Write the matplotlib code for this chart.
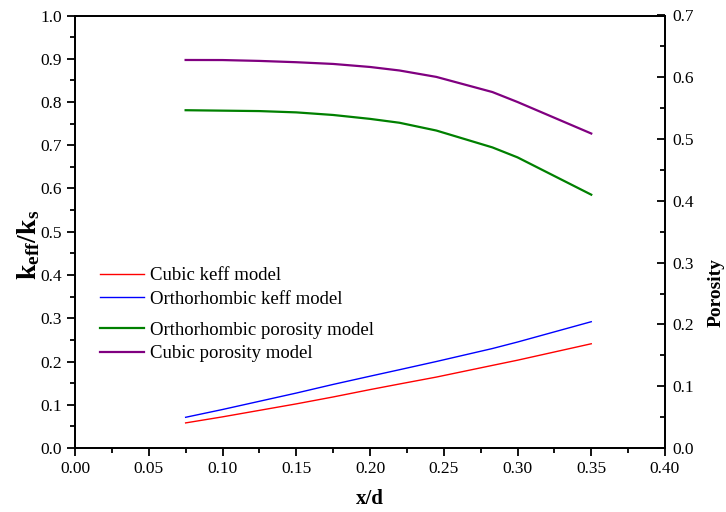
import matplotlib
matplotlib.use("Agg")
import matplotlib.pyplot as plt
from matplotlib.ticker import MultipleLocator

plt.rcParams['font.family'] = ['Liberation Serif', 'DejaVu Serif']
plt.rcParams['mathtext.fontset'] = 'custom'
plt.rcParams['mathtext.rm'] = 'Liberation Serif'
plt.rcParams['mathtext.it'] = 'Liberation Serif:italic'
plt.rcParams['mathtext.bf'] = 'Liberation Serif:bold'

# Relative distance x/d
x_d = [0.075, 0.10, 0.125, 0.15, 0.175, 0.20, 0.22, 0.245, 0.283, 0.30, 0.35]

# Effective conductivity ratio keff/ks
cubic_keff = [0.058, 0.072, 0.087, 0.102, 0.118, 0.135, 0.148, 0.164, 0.191, 0.203, 0.241]
ortho_keff = [0.071, 0.089, 0.108, 0.127, 0.147, 0.166, 0.181, 0.200, 0.230, 0.245, 0.292]

# Porosity
ortho_por = [0.5467, 0.5460, 0.5453, 0.5432, 0.5390, 0.5327, 0.5264, 0.5138, 0.4865, 0.4704, 0.4100]
cubic_por = [0.6280, 0.6279, 0.6265, 0.6244, 0.6216, 0.6167, 0.6110, 0.6006, 0.5761, 0.5600, 0.5090]

fig = plt.figure(figsize=(7.26, 5.12), dpi=100)
ax = fig.add_axes([75 / 726, 1 - 448 / 512, 590 / 726, 432.5 / 512])
ax2 = ax.twinx()

l_red, = ax.plot(x_d, cubic_keff, color='#ff0000', lw=1.0, label='Cubic keff model')
l_blue, = ax.plot(x_d, ortho_keff, color='#0000ff', lw=1.0, label='Orthorhombic keff model')
l_green, = ax2.plot(x_d, ortho_por, color='#008000', lw=1.6, label='Orthorhombic porosity model')
l_purple, = ax2.plot(x_d, cubic_por, color='#800080', lw=1.6, label='Cubic porosity model')

ax.set_xlim(0.0, 0.40)
ax.set_ylim(0.0, 1.0)
ax2.set_ylim(0.0, 0.7)

ax.xaxis.set_major_locator(MultipleLocator(0.05))
ax.xaxis.set_minor_locator(MultipleLocator(0.025))
ax.yaxis.set_major_locator(MultipleLocator(0.1))
ax.yaxis.set_minor_locator(MultipleLocator(0.05))
ax2.yaxis.set_major_locator(MultipleLocator(0.1))
ax2.yaxis.set_minor_locator(MultipleLocator(0.05))

ax.xaxis.set_major_formatter(plt.FormatStrFormatter('%.2f'))
ax.yaxis.set_major_formatter(plt.FormatStrFormatter('%.1f'))
ax2.yaxis.set_major_formatter(plt.FormatStrFormatter('%.1f'))

for a in (ax, ax2):
    for s in a.spines.values():
        s.set_linewidth(1.3)

ax.tick_params(axis='both', which='major', direction='out', length=6, width=1.3,
               labelsize=12.5, top=False, right=False)
ax.tick_params(axis='both', which='minor', direction='out', length=3.5, width=1.3,
               top=False, right=False)
ax2.tick_params(axis='y', which='major', direction='in', length=6, width=1.3, labelsize=12.5, pad=5)
ax2.tick_params(axis='y', which='minor', direction='in', length=3.5, width=1.3)

ax.set_xlabel('x/d', fontsize=15, fontweight='bold')
ax.xaxis.set_label_coords(0.5, -0.095)
ax.set_ylabel(r'$\mathbf{k_{eff}/k_s}$', fontsize=20)
ax.yaxis.set_label_coords(-0.056, 0.47)
ax2.set_ylabel('Porosity', fontsize=14, fontweight='bold')
ax2.yaxis.set_label_coords(1.072, 0.36)

leg_kw = dict(frameon=False, fontsize=13.5, handlelength=2.35, handletextpad=0.3,
              labelspacing=0.34, borderpad=0, borderaxespad=0, loc='center left',
              bbox_transform=fig.transFigure)
leg1 = ax2.legend(handles=[l_red, l_blue], bbox_to_anchor=(100 / 726, 1 - 287.5 / 512), **leg_kw)
ax2.add_artist(leg1)
ax2.legend(handles=[l_green, l_purple], bbox_to_anchor=(100 / 726, 1 - 342 / 512), **leg_kw)

fig.savefig('out.png', dpi=100)
